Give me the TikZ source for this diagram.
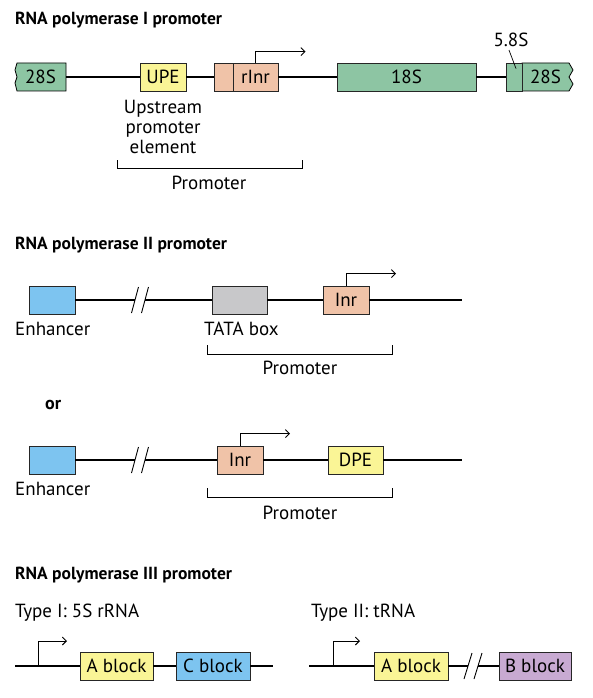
\documentclass[tikz,border=0pt]{standalone}
\usepackage{fontspec}
\setmainfont{PT Sans}
\usetikzlibrary{arrows.meta}
\definecolor{rgreen}{RGB}{141,197,163}
\definecolor{upeyellow}{RGB}{250,245,150}
\definecolor{salmon}{RGB}{240,195,168}
\definecolor{enhblue}{RGB}{125,196,240}
\definecolor{tatagray}{RGB}{200,200,202}
\definecolor{bpurple}{RGB}{200,170,210}
\begin{document}
\begin{tikzpicture}[x=1pt, y=-1pt,
          every node/.style={font=\fontsize{19}{20}\selectfont, inner sep=0pt},
          title/.style={anchor=west, font=\bfseries\fontsize{17.5}{20}\selectfont},
          blk/.style={draw=black!85, line width=.8pt, minimum height=28pt},
          dna/.style={line width=1.8pt},
          tss/.style={line width=.9pt, -{Straight Barb[length=4pt, width=8pt]}},
          brk/.style={line width=.7pt}]
            \useasboundingbox (0,0) rectangle (592,698);

            % RNA polymerase I
            \node[title] (t1) at (15,20) {RNA polymerase I promoter};

            \draw[fill=rgreen, line width=.8pt] (17,63) -- (66,63) -- (66,91) -- (17,91)
              -- (15,83) -- (17,77) -- (15,70) -- cycle;
            \draw[fill=rgreen, line width=.8pt] (522,63) -- (569,63) -- (573,70) -- (569,77)
              -- (573,84) -- (569,91) -- (522,91) -- cycle;

            \node[minimum width=51pt] (28Sa) at (40.5,77) {28S};
            \node[blk, fill=upeyellow, minimum width=46pt] (UPE) at (163,77) {UPE};
            \node[blk, fill=salmon, minimum width=19pt] (rInrL) at (223.5,77) {};
            \node[blk, fill=salmon, minimum width=45pt] (rInr) at (255.5,77) {rInr};
            \node[blk, fill=rgreen, minimum width=139pt] (18S) at (406.5,77) {18S};
            \node[blk, fill=rgreen, minimum width=16pt] (58S) at (514,77) {};
            \node[minimum width=47pt] (28Sb) at (545.5,77) {28S};

            \draw[dna] (28Sa.east) -- (UPE.west) (UPE.east) -- (rInrL.west)
                       (rInr.east) -- (18S.west) (18S.east) -- (58S.west);
            \draw[tss] (rInr.north) -- ++(0,-11) -- ++(50,0);

            \node (l58) at (511,40) {5.8S};
            \draw[brk] ([xshift=-2pt, yshift=-3pt]l58.south) -- ([xshift=2pt, yshift=-6pt]58S.north);

            \node[align=center] (upetxt) at (163,127) {Upstream\\promoter\\element};
            \draw[brk] (117,160) |- (302,168) -- (302,160);
            \node (prom1) at (209,183) {Promoter};

            % RNA polymerase II
            \node[title] (t2) at (15,245) {RNA polymerase II promoter};

            \node[blk, fill=enhblue, minimum width=46pt] (enh1) at (52,300) {};
            \node[blk, fill=tatagray, minimum width=55pt] (tata) at (239.5,300) {};
            \node[blk, fill=salmon, minimum width=46pt] (inr1) at (346,300) {Inr};
            \coordinate (cut1a) at (135,300);
            \coordinate (cut1b) at (145,300);
            \coordinate (end1) at (462,300);

            \draw[dna] (enh1.east) -- (cut1a) (cut1b) -- (tata.west)
                       (tata.east) -- (inr1.west) (inr1.east) -- (end1);
            \foreach \d in {0,10}
              \draw[brk, line width=.9pt] ([xshift=\d pt]cut1a) ++(-3.5,13) -- ++(7,-26);
            \draw[tss] (inr1.north) -- ++(0,-12) -- ++(50,0);

            \node[anchor=west] (enhtxt1) at (15,329) {Enhancer};
            \node[anchor=west] (tatatxt) at (204,329) {TATA box};
            \draw[brk] (207,345) |- (392,354) -- (392,345);
            \node (prom2) at (300,368) {Promoter};

            \node[anchor=west, font=\bfseries\fontsize{18}{20}\selectfont] (or) at (45,405) {or};

            \node[blk, fill=enhblue, minimum width=46pt] (enh2) at (52,460) {};
            \node[blk, fill=salmon, minimum width=46pt] (inr2) at (240,460) {Inr};
            \node[blk, fill=upeyellow, minimum width=55pt] (DPE) at (355.5,460) {DPE};
            \coordinate (cut2a) at (135,460);
            \coordinate (cut2b) at (145,460);
            \coordinate (end2) at (462,460);

            \draw[dna] (enh2.east) -- (cut2a) (cut2b) -- (inr2.west)
                       (inr2.east) -- (DPE.west) (DPE.east) -- (end2);
            \foreach \d in {0,10}
              \draw[brk, line width=.9pt] ([xshift=\d pt]cut2a) ++(-3.5,13) -- ++(7,-26);
            \draw[tss] (inr2.north) -- ++(0,-12) -- ++(50,0);

            \node[anchor=west] (enhtxt2) at (15,489) {Enhancer};
            \draw[brk] (207,488) |- (392,497) -- (392,488);
            \node (prom3) at (300,513) {Promoter};

            % RNA polymerase III
            \node[title] (t3) at (15,575) {RNA polymerase III promoter};
            \node[anchor=west] (type1) at (15,613) {Type I: 5S rRNA};
            \node[anchor=west] (type2) at (311,613) {Type II: tRNA};

            \coordinate (s3a) at (15,666);
            \coordinate (tss3a) at (38,666);
            \node[blk, fill=upeyellow, minimum width=73pt] (ablk1) at (116.5,666) {A block};
            \node[blk, fill=enhblue, minimum width=74pt] (cblk) at (213,666) {C block};
            \coordinate (e3a) at (273,666);

            \draw[dna] (s3a) -- (ablk1.west) (ablk1.east) -- (cblk.west) (cblk.east) -- (e3a);
            \draw[tss] (tss3a) -- ++(0,-25) -- ++(29,0);

            \coordinate (s3b) at (309,666);
            \coordinate (tss3b) at (333,666);
            \node[blk, fill=upeyellow, minimum width=74pt] (ablk2) at (411,666) {A block};
            \coordinate (cut3a) at (468,666);
            \coordinate (cut3b) at (478,666);
            \node[blk, fill=bpurple, minimum width=72pt] (bblk) at (535,666) {B block};

            \draw[dna] (s3b) -- (ablk2.west) (ablk2.east) -- (cut3a) (cut3b) -- (bblk.west);
            \foreach \d in {0,10}
              \draw[brk, line width=.9pt] ([xshift=\d pt]cut3a) ++(-4,13) -- ++(8,-26);
            \draw[tss] (tss3b) -- ++(0,-25) -- ++(27,0);
          \end{tikzpicture}
\end{document}
